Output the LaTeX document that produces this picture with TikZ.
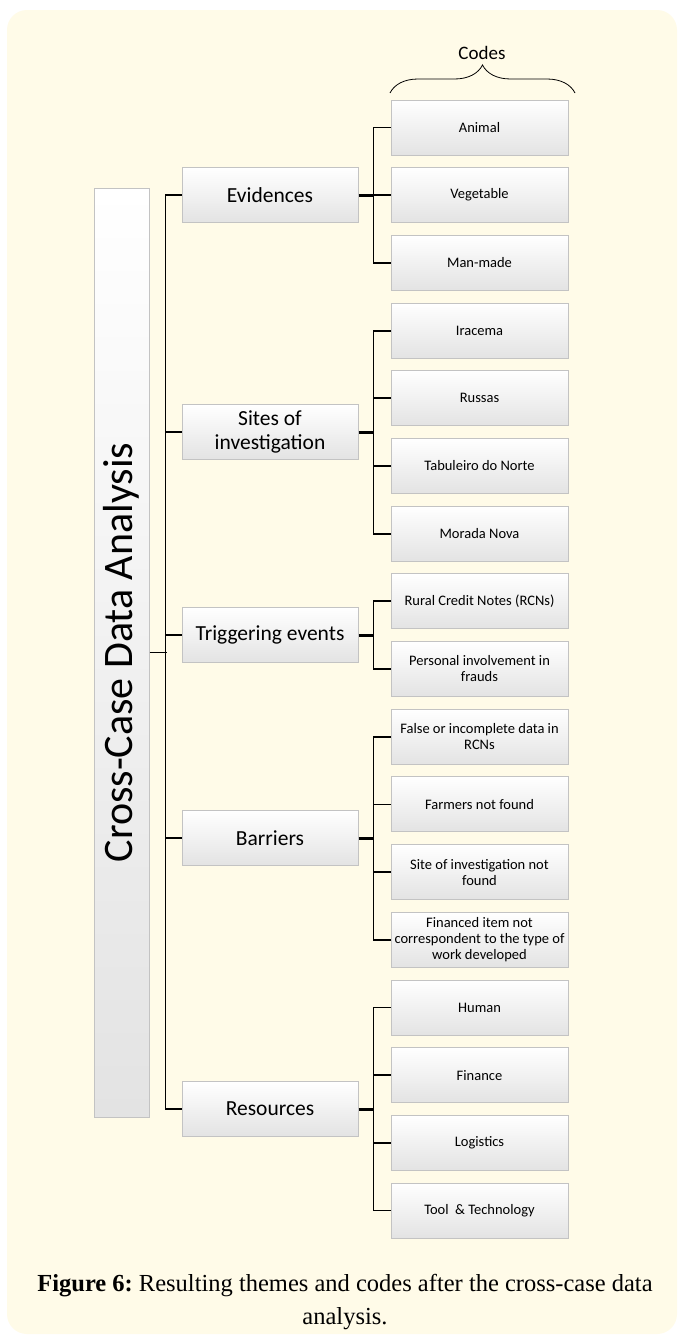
\documentclass[tikz,border=0pt]{standalone}
\usepackage{fontspec}
\setmainfont{Carlito}
\newfontfamily\capfont{Liberation Serif}
\usetikzlibrary{decorations.pathreplacing}
\definecolor{paper}{RGB}{255,251,232}
\definecolor{edge}{RGB}{195,195,195}
\tikzset{
  box/.style={draw=edge, line width=1pt, top color=white, middle color=white,
    bottom color=black!11, align=center, inner sep=1pt},
  code/.style={box, minimum width=177pt, minimum height=55pt,
    font=\fontsize{14.5}{16}\selectfont},
  theme/.style={box, minimum width=176pt, minimum height=55pt,
    font=\fontsize{21.5}{24.5}\selectfont},
  link/.style={line width=1.8pt},
  stub/.style={line width=3pt},
}
\begin{document}
\begin{tikzpicture}[x=1pt,y=-1pt]
\useasboundingbox (0,0) rectangle (680,1336);
\fill[white] (0,0) rectangle (680,1336);
\fill[paper, rounded corners=20pt] (7,10) rectangle (677,1334);

\node[box, minimum width=55pt, minimum height=929pt, font=\fontsize{42}{42}\selectfont] (cda) at (121.5,652.5) {\rotatebox{90}{Cross-Case Data Analysis}};

\node[theme] (ev) at (270,195.2) {Evidences};
\node[theme] (si) at (270,432.1) {Sites of\\investigation};
\node[theme] (tr) at (270,635.2) {Triggering events};
\node[theme] (ba) at (270,838.3) {Barriers};
\node[theme] (re) at (270,1109) {Resources};

\node[code] (an) at (479.5,127.5) {Animal};
\node[code] (ve) at (479.5,195.2) {Vegetable};
\node[code] (mm) at (479.5,262.9) {Man-made};
\node[code] (ir) at (479.5,330.6) {Iracema};
\node[code] (ru) at (479.5,398.3) {Russas};
\node[code] (tn) at (479.5,466.0) {Tabuleiro do Norte};
\node[code] (mn) at (479.5,533.6) {Morada Nova};
\node[code] (rc) at (479.5,601.3) {Rural Credit Notes (RCNs)};
\node[code] (pi) at (479.5,669.0) {Personal involvement in\\frauds};
\node[code] (fi) at (479.5,736.7) {False or incomplete data in\\RCNs};
\node[code] (fn) at (479.5,804.4) {Farmers not found};
\node[code] (sn) at (479.5,872.1) {Site of investigation not\\found};
\node[code] (ft) at (479.5,939.8) {Financed item not\\correspondent to the type of\\work developed};
\node[code] (hu) at (479.5,1007.5) {Human};
\node[code] (fc) at (479.5,1075.2) {Finance};
\node[code] (lo) at (479.5,1142.9) {Logistics};
\node[code] (tt) at (479.5,1210.5) {Tool \ \& Technology};

\draw[decorate, decoration={brace, amplitude=28pt}, line width=0.8pt] (390,93) -- (575,93);
\node[font=\fontsize{19}{19}\selectfont] (codes) at (482,53) {Codes};

\draw[link] (cda.east) -- ++(17,0);
\draw[link] (ev.west) -- ++(-16,0) |- (re.west);
\draw[link] (si.west) -- ++(-16,0);
\draw[link] (tr.west) -- ++(-16,0);
\draw[link] (ba.west) -- ++(-16,0);

\draw[stub] (ev.east) -- ++(15,0) coordinate (evb);
\draw[link] (evb) |- (an.west) (evb) |- (ve.west) (evb) |- (mm.west);
\draw[stub] (si.east) -- ++(15,0) coordinate (sib);
\draw[link] (sib) |- (ir.west) (sib) |- (ru.west) (sib) |- (tn.west) (sib) |- (mn.west);
\draw[stub] (tr.east) -- ++(15,0) coordinate (trb);
\draw[link] (trb) |- (rc.west) (trb) |- (pi.west);
\draw[stub] (ba.east) -- ++(15,0) coordinate (bab);
\draw[link] (bab) |- (fi.west) (bab) |- (fn.west) (bab) |- (sn.west) (bab) |- (ft.west);
\draw[stub] (re.east) -- ++(15,0) coordinate (reb);
\draw[link] (reb) |- (hu.west) (reb) |- (fc.west) (reb) |- (lo.west) (reb) |- (tt.west);

\node[font=\capfont\fontsize{24.5}{33}\selectfont, align=center] (cap) at (345,1302) {\textbf{Figure 6:}~Resulting themes and codes after the cross-case data\\analysis.};
\end{tikzpicture}
\end{document}
